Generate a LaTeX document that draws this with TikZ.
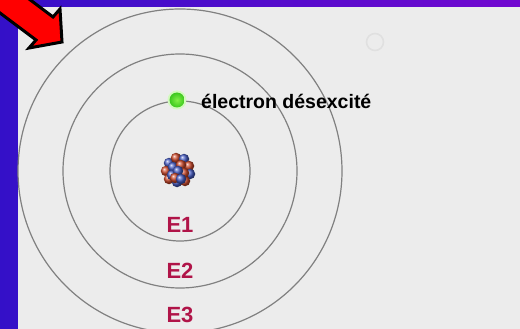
\documentclass[tikz,border=0pt]{standalone}
\usepackage{fontspec}
\setmainfont{Liberation Sans}
\definecolor{frameblue}{RGB}{52,16,200}
\definecolor{framepurple}{RGB}{114,8,208}
\definecolor{panel}{RGB}{236,236,236}
\definecolor{orbitgray}{RGB}{128,128,128}
\definecolor{levelred}{RGB}{176,20,72}
\definecolor{protonred}{RGB}{206,74,44}
\definecolor{neutronblue}{RGB}{70,92,196}
\definecolor{electronlight}{RGB}{130,240,70}
\definecolor{electrongreen}{RGB}{60,200,30}
\begin{document}
\begin{tikzpicture}[x=1pt,y=-1pt,
  orbit/.style={circle,draw=orbitgray,line width=1.2pt,inner sep=0pt},
  level/.style={text=levelred,font=\fontsize{22}{24}\selectfont\bfseries,inner sep=0pt},
  proton/.style={circle,inner sep=0pt,minimum size=10.5pt,shading=ball,ball color=protonred},
  neutron/.style={circle,inner sep=0pt,minimum size=10.5pt,shading=ball,ball color=neutronblue}]
  \useasboundingbox (0,0) rectangle (520,329);
  % coloured frame and light panel
  \shade[left color=frameblue,right color=framepurple] (0,0) rectangle (520,329);
  \fill[panel] (18,7) rectangle (520,329);
  % centre of the atom
  \coordinate (c) at (180,171);
  % energy levels
  \node[orbit,minimum size=140pt] (k1) at (c) {};
  \node[orbit,minimum size=234pt] (k2) at (c) {};
  \node[orbit,minimum size=324pt] (k3) at (c) {};
  \node[level] (e1) at (180,225) {E1};
  \node[level] (e2) at (180,271) {E2};
  \node[level] (e3) at (180,315) {E3};
  % nucleus: cluster of protons and neutrons
  \begin{scope}[shift={(178,170)}]
    \node[neutron] (n1) at (-9,-7) {};
    \node[proton]  (p1) at (-2,-12) {};
    \node[neutron] (n2) at (6,-11) {};
    \node[proton]  (p2) at (11,-4) {};
    \node[proton]  (p3) at (-12,1) {};
    \node[neutron] (n3) at (12,4) {};
    \node[proton]  (p4) at (-9,9) {};
    \node[neutron] (n4) at (-1,12) {};
    \node[proton]  (p5) at (7,11) {};
    \node[neutron] (n5) at (-5,-3) {};
    \node[proton]  (p6) at (3,-5) {};
    \node[neutron] (n6) at (-6,5) {};
    \node[proton]  (p7) at (6,3) {};
    \node[neutron] (n7) at (0,1) {};
    \node[proton]  (p8) at (-3,8) {};
    \node[neutron] (n8) at (3,9) {};
  \end{scope}
  % electron on the first level, with a soft glow
  \node[circle,inner sep=0pt,minimum size=19pt,fill=electronlight!35] (glow) at (177,100) {};
  \node[circle,inner sep=0pt,minimum size=15pt,shading=radial,inner color=electronlight,outer color=electrongreen] (el) at (177,100) {};
  \node[anchor=west,inner sep=0pt,font=\fontsize{19.5}{21}\selectfont\bfseries] (lab) at (201,101) {électron désexcité};
  % faint ring in the corner of the panel
  \node[circle,draw=black!12,line width=1.6pt,minimum size=17pt,inner sep=0pt] (ring) at (375,42) {};
  % red pointer arrow
  \coordinate (a1) at (-3,-25);
  \coordinate (a2) at (53,17);
  \coordinate (a3) at (60,9);
  \coordinate (a4) at (62,42);
  \coordinate (a5) at (29,48);
  \coordinate (a6) at (36,40);
  \coordinate (a7) at (-20,-2);
  \filldraw[fill=red,draw=black,line width=3pt,line join=miter]
    (a1) -- (a2) -- (a3) -- (a4) -- (a5) -- (a6) -- (a7) -- cycle;
\end{tikzpicture}
\end{document}
